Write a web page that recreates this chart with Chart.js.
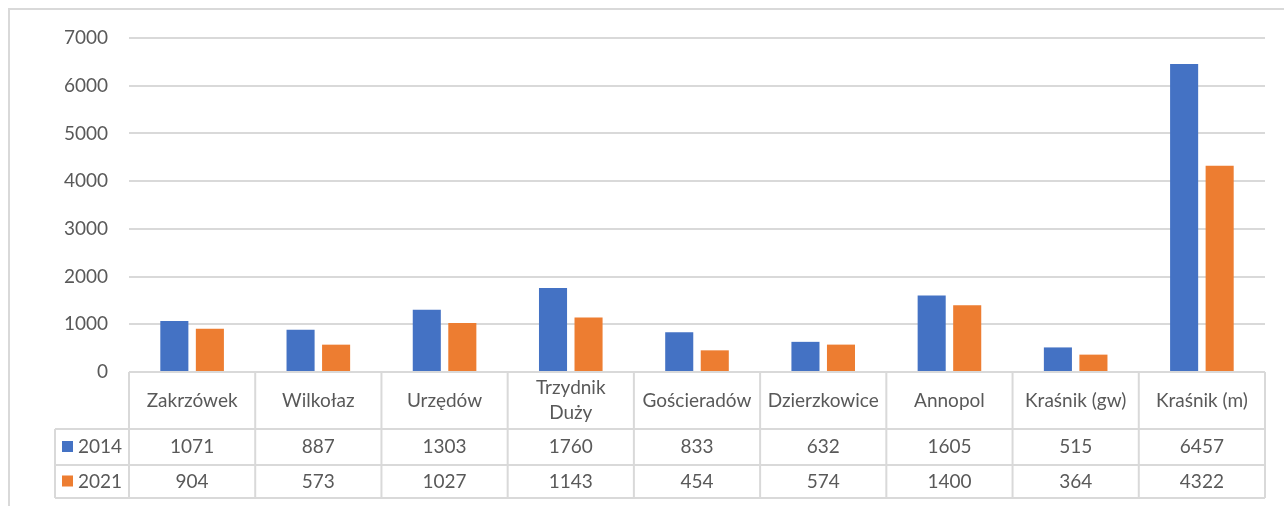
<!DOCTYPE html>
<html>
<head>
<meta charset="utf-8">
<script src="https://cdn.jsdelivr.net/npm/chart.js@4.4.1/dist/chart.umd.min.js"></script>
<style>
  html, body { margin: 0; padding: 0; background: #fff; }
  #wrap { width: 1284px; height: 506px; position: relative; }
</style>
</head>
<body>
<div id="wrap"><canvas id="bar-chart" width="1284" height="506"></canvas></div>
<script>
// Gminy (kategorie) i liczby dla obu lat
const gminy = ["Zakrzówek", "Wilkołaz", "Urzędów", ["Trzydnik", "Duży"], "Gościeradów", "Dzierzkowice", "Annopol", "Kraśnik (gw)", "Kraśnik (m)"];
const lata = ["2014", "2021"];
const wartosci2014 = [1071, 887, 1303, 1760, 833, 632, 1605, 515, 6457];
const wartosci2021 = [904, 573, 1027, 1143, 454, 574, 1400, 364, 4322];
const kolory = ["#4472C4", "#ED7D31"];
const yMax = 7000;
const yKrok = 1000;

const FONT = "Lato, 'Open Sans', sans-serif";
const ROZMIAR = 19;
const SZARY = "#595959";
const LINIA = "#d9d9d9";

// Tabela danych pod wykresem (jak w Excelu)
const tabelaDanych = {
  id: 'tabelaDanych',
  beforeDraw(chart) {
    const ctx = chart.ctx;
    ctx.save();
    // ramka obszaru wykresu
    ctx.strokeStyle = LINIA;
    ctx.lineWidth = 2;
    ctx.beginPath();
    ctx.moveTo(9, 506);
    ctx.lineTo(9, 9);
    ctx.lineTo(1284, 9);
    ctx.stroke();
    ctx.restore();
  },
  afterDraw(chart) {
    const ctx = chart.ctx;
    const area = chart.chartArea;
    const x = chart.scales.x;
    const n = gminy.length;
    const szer = (area.right - area.left) / n;
    const r0 = area.bottom, r1 = r0 + 57, r2 = r1 + 36, r3 = r2 + 33;
    const legL = 55;

    ctx.save();
    ctx.strokeStyle = LINIA;
    ctx.lineWidth = 2;
    ctx.beginPath();
    ctx.moveTo(area.left, r0); ctx.lineTo(area.right, r0);
    [r1, r2, r3].forEach(y => { ctx.moveTo(legL, y); ctx.lineTo(area.right, y); });
    for (let i = 0; i <= n; i++) {
      const xx = area.left + i * szer;
      ctx.moveTo(xx, r0); ctx.lineTo(xx, r3);
    }
    ctx.moveTo(legL, r1); ctx.lineTo(legL, r3);
    ctx.stroke();

    ctx.fillStyle = SZARY;
    ctx.font = ROZMIAR + "px " + FONT;
    ctx.textAlign = 'center';
    ctx.textBaseline = 'middle';
    gminy.forEach((g, i) => {
      const cx = x.getPixelForValue(i);
      if (Array.isArray(g)) {
        ctx.fillText(g[0], cx, (r0 + r1) / 2 - 13);
        ctx.fillText(g[1], cx, (r0 + r1) / 2 + 12);
      } else {
        ctx.fillText(g, cx, (r0 + r1) / 2);
      }
      ctx.fillText(String(wartosci2014[i]), cx, (r1 + r2) / 2);
      ctx.fillText(String(wartosci2021[i]), cx, (r2 + r3) / 2);
    });

    // legenda w tabeli
    [[r1, r2], [r2, r3]].forEach((r, k) => {
      const cy = (r[0] + r[1]) / 2;
      ctx.fillStyle = kolory[k];
      ctx.fillRect(62, cy - 6, 11, 11);
      ctx.fillStyle = SZARY;
      ctx.textAlign = 'left';
      ctx.fillText(lata[k], 78, cy);
    });
    ctx.restore();
  }
};

new Chart(document.getElementById("bar-chart"), {
  type: 'bar',
  data: {
    labels: gminy,
    datasets: [
      { label: lata[0], data: wartosci2014, backgroundColor: kolory[0] },
      { label: lata[1], data: wartosci2021, backgroundColor: kolory[1] }
    ]
  },
  options: {
    responsive: false,
    animation: false,
    devicePixelRatio: 1,
    layout: { padding: { left: 0, top: 38, right: 19, bottom: 134 } },
    datasets: { bar: { categoryPercentage: 0.563, barPercentage: 0.79 } },
    plugins: {
      legend: { display: false },
      title: { display: false },
      tooltip: { enabled: false }
    },
    scales: {
      x: { display: false },
      y: {
        min: 0,
        max: yMax,
        afterFit(s) { s.width = 129; },
        border: { display: false },
        grid: { color: LINIA, lineWidth: 2, drawTicks: false },
        ticks: {
          stepSize: yKrok,
          padding: 21,
          color: SZARY,
          font: { family: FONT, size: ROZMIAR },
          callback: v => String(v)
        }
      }
    }
  },
  plugins: [tabelaDanych]
});
</script>
</body>
</html>
